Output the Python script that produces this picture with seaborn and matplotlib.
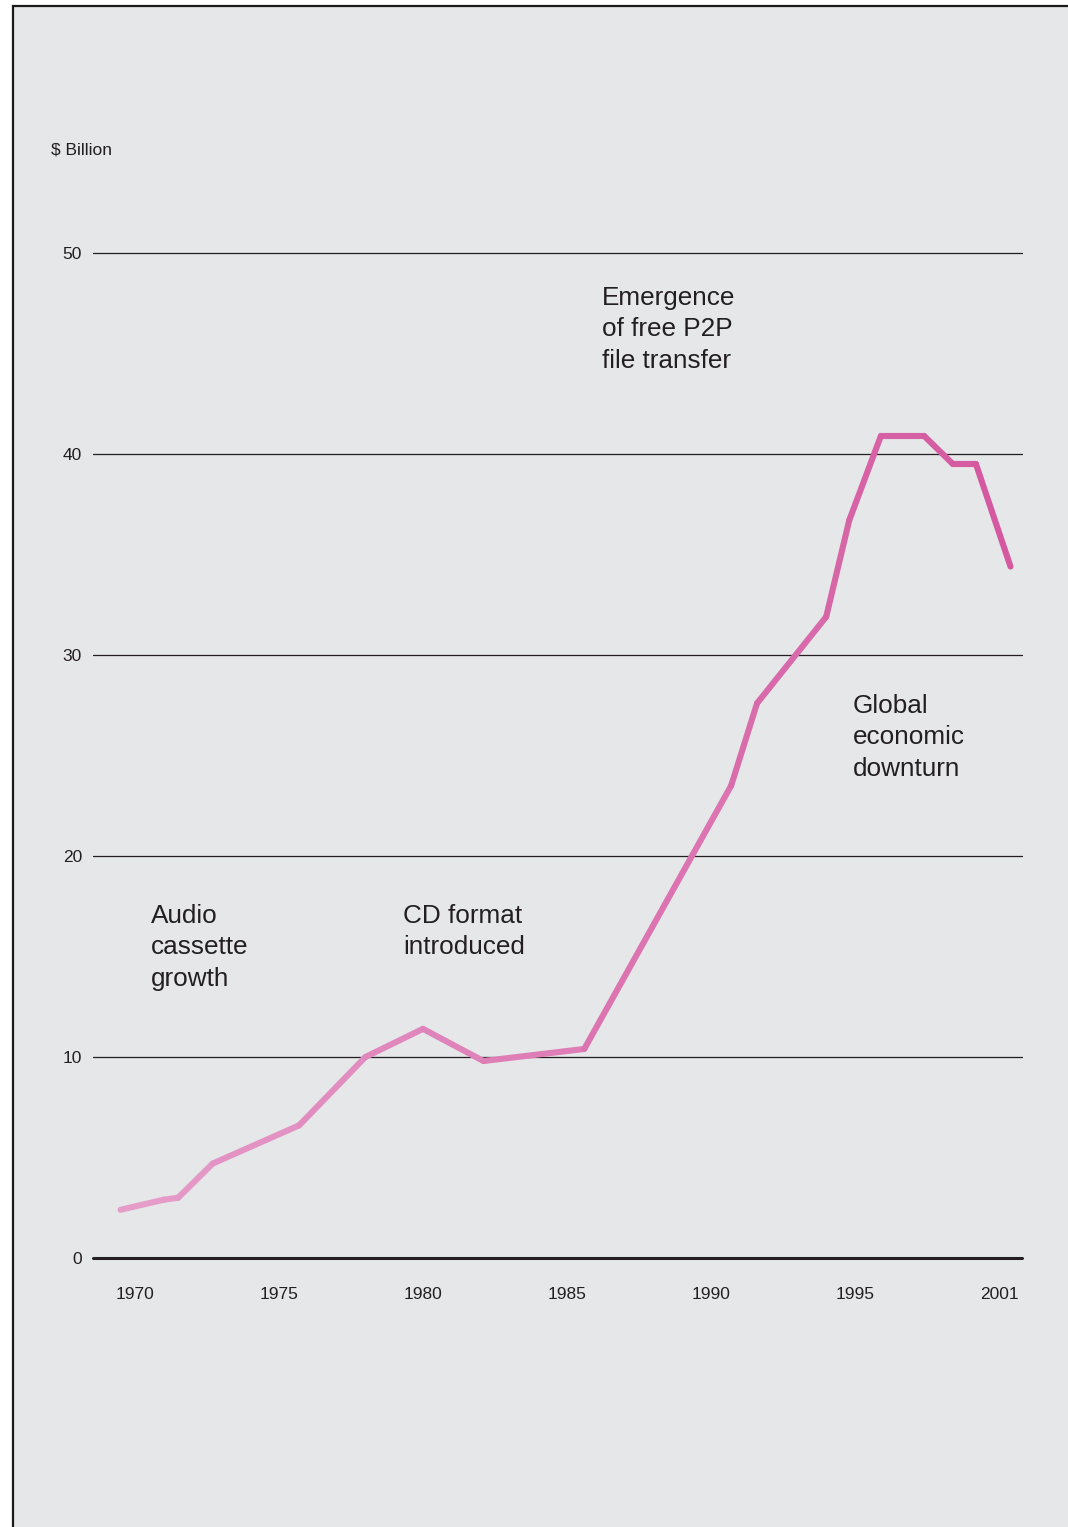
import numpy as np
import pandas as pd
import matplotlib
matplotlib.use("Agg")
import matplotlib.pyplot as plt
from matplotlib.patches import Rectangle
import seaborn as sns

# Global recorded-music sales, $ billion
years = [1969.5, 1971.0, 1971.5, 1972.7, 1975.7, 1978.0, 1980.0, 1982.1,
         1985.6, 1990.7, 1991.6, 1994.0, 1994.8, 1995.9, 1997.4, 1998.4,
         1999.2, 2000.4]
sales = [2.4, 2.9, 3.0, 4.7, 6.6, 10.0, 11.4, 9.8,
         10.4, 23.5, 27.6, 31.9, 36.7, 40.9, 40.9, 39.5,
         39.5, 34.4]

y_ticks = [0, 10, 20, 30, 40, 50]
x_tick_pos = [1970, 1975, 1980, 1985, 1990, 1995, 2000]
x_tick_labels = ["1970", "1975", "1980", "1985", "1990", "1995", "2001"]

notes = [
    ("Audio\ncassette\ngrowth", 151, 904),
    ("CD format\nintroduced", 403, 904),
    ("Emergence\nof free P2P\nfile transfer", 602, 286),
    ("Global\neconomic\ndownturn", 853, 694),
]

W, H = 1068, 1527
BG = "#e6e7e9"
INK = "#231f20"
PINK_START = np.array([0xe6, 0x9e, 0xca]) / 255
PINK_END = np.array([0xd4, 0x58, 0x9f]) / 255

sns.set_theme(style="white")
plt.rcParams["font.family"] = ["Liberation Sans", "DejaVu Sans"]

fig = plt.figure(figsize=(W / 100, H / 100), dpi=100, facecolor="white")

# Framed grey panel behind everything
fig.patches.append(Rectangle((13 / W, -0.1), 1.2, 1 - 6 / H + 0.1,
                             transform=fig.transFigure, facecolor=BG,
                             edgecolor="#1a1a1a", linewidth=1.6, zorder=-10))

ax = fig.add_axes([93 / W, 269 / H, 929 / W, 1005 / H])
ax.set_facecolor("none")
ax.set_zorder(5)

# Line drawn as consecutive segments with a light-to-dark pink ramp
rows = []
for i in range(len(years) - 1):
    for j in (i, i + 1):
        rows.append({"year": years[j], "sales": sales[j], "seg": i})
df = pd.DataFrame(rows)
t = (np.array(years[:-1]) + np.array(years[1:])) / 2
t = (t - years[0]) / (years[-1] - years[0])
palette = [tuple(PINK_START + (PINK_END - PINK_START) * k) for k in t]

for yv in y_ticks[1:]:
    ax.axhline(yv, color=INK, lw=0.9, zorder=1, clip_on=False)
ax.axhline(0, color=INK, lw=2.2, zorder=1, clip_on=False)

sns.lineplot(data=df, x="year", y="sales", hue="seg", units="seg",
             estimator=None, palette=palette, legend=False, ax=ax,
             linewidth=4.4, solid_capstyle="round", solid_joinstyle="round",
             zorder=3, clip_on=False)

ax.set_xlim(1968.542, 2000.799)
ax.set_ylim(0, 50)
ax.set_xticks(x_tick_pos)
ax.set_xticklabels(x_tick_labels)
ax.set_yticks(y_ticks)
ax.set_yticklabels([str(v) for v in y_ticks])
ax.tick_params(axis="x", length=0, pad=21, labelsize=12.5, labelcolor=INK)
ax.tick_params(axis="y", length=0, pad=8, labelsize=12.5, labelcolor=INK)
ax.set_xlabel("")
ax.set_ylabel("")
for s in ax.spines.values():
    s.set_visible(False)
ax.grid(False)

fig.text(51 / W, 1 - 150 / H, "$ Billion", ha="left", va="center",
         fontsize=12.5, color=INK)

for txt, px, py in notes:
    fig.text(px / W, 1 - py / H, txt, ha="left", va="top", fontsize=18.8,
             color=INK, linespacing=1.39)

fig.savefig("out.png", dpi=100, facecolor="white")
